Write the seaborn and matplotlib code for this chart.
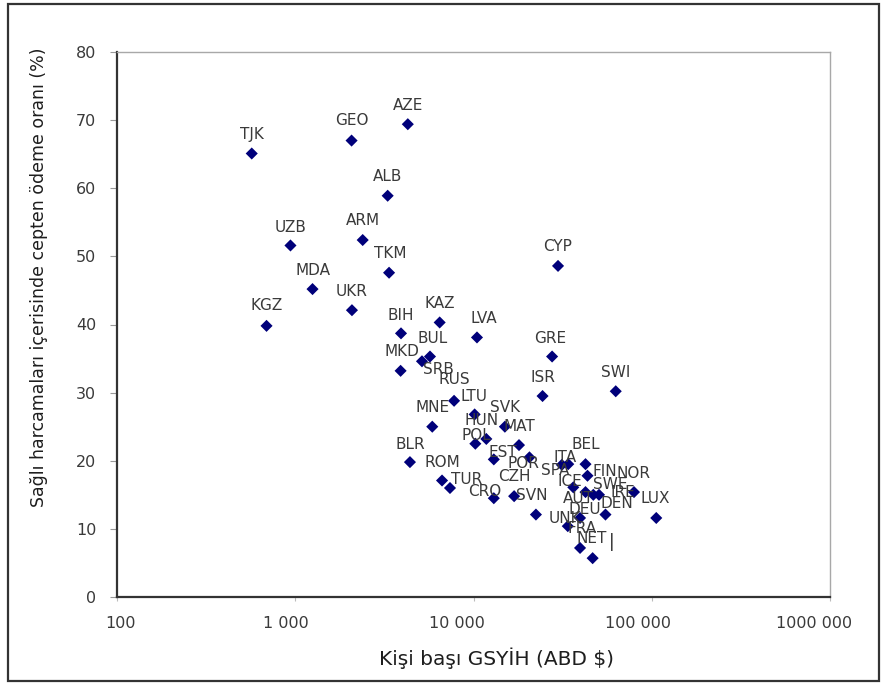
import matplotlib
matplotlib.use("Agg")
import numpy as np
import pandas as pd
import seaborn as sns
import matplotlib.pyplot as plt
from matplotlib.patches import Rectangle
from matplotlib.transforms import ScaledTranslation
from matplotlib.ticker import NullLocator

# ---------------- data ----------------
countries = ["TJK", "GEO", "AZE", "ALB", "UZB", "ARM", "TKM", "MDA", "UKR", "KGZ",
             "KAZ", "BIH", "LVA", "BUL", "SRB", "MKD", "GRE", "ISR", "CYP", "SWI",
             "RUS", "LTU", "MNE", "SVK", "HUN", "POL", "MAT", "BLR", "EST", "POR",
             "ITA", "SPA", "BEL", "FIN", "ROM", "TUR", "ICE", "AUT", "SWE", "IRE",
             "NOR", "CZH", "CRO", "SVN", "DEN", "DEU", "LUX", "UNK", "FRA", "NET"]
gdp_per_capita = [570, 2070, 4280, 3300, 940, 2390, 3360, 1250, 2080, 690,
                  6460, 3920, 10460, 5700, 5140, 3900, 27600, 24400, 29800, 62800,
                  7780, 10150, 5870, 15000, 11800, 10240, 18000, 4400, 13000, 20600,
                  34000, 31300, 42500, 43600, 6660, 7380, 36300, 42500, 47000, 50600,
                  79500, 16900, 13000, 22400, 55000, 39600, 106000, 33800, 39600, 46600]
out_of_pocket = [65.1, 67.0, 69.4, 58.9, 51.6, 52.4, 47.6, 45.2, 42.1, 39.8,
                 40.3, 38.7, 38.1, 35.3, 34.6, 33.2, 35.3, 29.5, 48.6, 30.2,
                 28.8, 26.8, 25.0, 25.0, 23.2, 22.5, 22.3, 19.8, 20.2, 20.5,
                 19.5, 19.4, 19.5, 17.8, 17.1, 16.0, 16.1, 15.4, 15.0, 15.0,
                 15.4, 14.8, 14.5, 12.1, 12.1, 11.6, 11.6, 10.4, 7.2, 5.7]

x_ticks = [100, 1000, 10000, 100000, 1000000]
x_tick_labels = ["100", "1 000", "10 000", "100 000", "1000 000"]
y_ticks = [0, 10, 20, 30, 40, 50, 60, 70, 80]

x_title = "Kişi başı GSYİH (ABD $)"
y_title = "Sağlı harcamaları içerisinde cepten ödeme oranı (%)"

# ---------------- layout (label offsets in pixels: dx, dy-up) ----------------
label_offsets = {
    "TJK": (0, 19), "GEO": (0, 20), "AZE": (0, 19), "ALB": (0, 19), "UZB": (0, 18),
    "ARM": (0, 20), "TKM": (1, 19), "MDA": (0, 19), "UKR": (0, 19), "KGZ": (0, 20),
    "KAZ": (0, 19), "BIH": (0, 18), "LVA": (7, 19), "BUL": (3, 18), "SRB": (16, -8),
    "MKD": (1, 19), "GRE": (-2, 18), "ISR": (0, 19), "CYP": (0, 19), "SWI": (0, 19),
    "RUS": (0, 21), "LTU": (-1, 18), "MNE": (0, 19), "SVK": (0, 19), "HUN": (-5, 18),
    "POL": (1, 8), "MAT": (0, 19), "BLR": (0, 18), "EST": (9, 7), "POR": (-6, -6),
    "ITA": (-3, 7), "SPA": (-7, -6), "BEL": (0, 20), "FIN": (17, 4), "ROM": (0, 18),
    "TUR": (17, 8), "ICE": (-3, 6), "AUT": (-7, -6), "SWE": (17, 10), "IRE": (24, 2),
    "NOR": (0, 19), "CZH": (0, 20), "CRO": (-9, 7), "SVN": (-4, 19), "DEN": (11, 11),
    "DEU": (5, 8), "LUX": (-1, 19), "UNK": (-3, 8), "FRA": (2, 19), "NET": (-1, 20),
}
x_tick_label_shift = [3.5, -9, -17, -13.5, -16]  # pixels

df = pd.DataFrame({"country": countries, "gdp": gdp_per_capita, "oop": out_of_pocket})

sns.set_theme(style="white")
plt.rcParams["font.family"] = ["DejaVu Sans"]

W, H, DPI = 889, 685, 100
fig = plt.figure(figsize=(W / DPI, H / DPI), dpi=DPI)
fig.patch.set_facecolor("white")
ax = fig.add_axes([117 / W, 88 / H, 713 / W, 545 / H])

ax.set_xscale("log")
sns.scatterplot(data=df, x="gdp", y="oop", marker="D", s=38, color="#00007a",
                edgecolor="none", linewidth=0, ax=ax, legend=False, zorder=3)
ax.set_xlim(100, 1000000)
ax.set_ylim(0, 80)

px2pt = 72 / DPI
for c, xv, yv in zip(countries, gdp_per_capita, out_of_pocket):
    dx, dy = label_offsets[c]
    ax.annotate(c, (xv, yv), xytext=(dx * px2pt, dy * px2pt), textcoords="offset points",
                ha="center", va="center", fontsize=11, color="#3a3a3a", zorder=4)
# stray cursor mark beside NET
net_i = countries.index("NET")
ax.annotate("|", (gdp_per_capita[net_i], out_of_pocket[net_i]), xytext=(19 * px2pt, 16 * px2pt),
            textcoords="offset points", ha="center", va="center", fontsize=12, color="#222222")

ax.set_xlabel("")
ax.set_ylabel("")
ax.set_yticks(y_ticks)
ax.set_yticklabels([str(v) for v in y_ticks])
ax.set_xticks(x_ticks)
ax.set_xticklabels(x_tick_labels)
ax.xaxis.set_minor_locator(NullLocator())
ax.tick_params(axis="y", which="major", left=True, length=5, width=0.8, color="#999999",
               pad=10, labelsize=11.5, labelcolor="#3a3a3a")
ax.tick_params(axis="x", which="major", bottom=True, length=3, width=0.8, color="#bbbbbb",
               pad=11, labelsize=11.5, labelcolor="#3a3a3a")

for lbl, sh in zip(ax.get_xticklabels(), x_tick_label_shift):
    lbl.set_transform(lbl.get_transform() + ScaledTranslation(sh / DPI, 0, fig.dpi_scale_trans))

for side in ["left", "bottom"]:
    ax.spines[side].set_color("#333333")
    ax.spines[side].set_linewidth(1.6)
for side in ["top", "right"]:
    ax.spines[side].set_color("#a8a8a8")
    ax.spines[side].set_linewidth(1.0)
ax.grid(False)

fig.text(496 / W, 1 - 658 / H, x_title, ha="center", va="center", fontsize=14.5, color="#1e1e1e")
fig.text(39 / W, 1 - 277 / H, y_title, ha="center", va="center", rotation=90,
         fontsize=12.5, color="#1e1e1e")

fig.add_artist(Rectangle((8 / W, 4 / H), 871 / W, 677 / H, transform=fig.transFigure,
                         fill=False, edgecolor="#333333", linewidth=1.6))

fig.savefig("out.png", dpi=DPI, facecolor="white")
